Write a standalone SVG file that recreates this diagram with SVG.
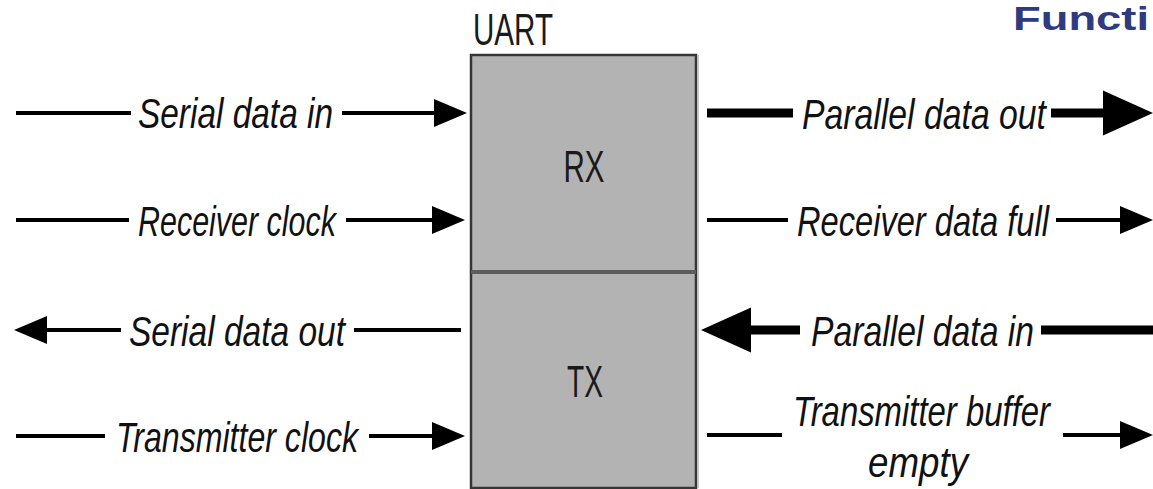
<svg xmlns="http://www.w3.org/2000/svg" width="1153" height="489" viewBox="0 0 1153 489">
  <style>
    .lbl { font-family: "Liberation Sans Narrow", "Liberation Sans", Arial, sans-serif; font-style: italic; font-size: 42px; fill: #111; }
    .blk { font-family: "Liberation Sans Narrow", "Liberation Sans", Arial, sans-serif; font-size: 45px; fill: #1a1a1a; }
    .thin { stroke: #000; stroke-width: 4; fill: none; }
    .thick { stroke: #000; stroke-width: 9; fill: none; }
    .title { font-family: "Liberation Sans", Arial, sans-serif; font-weight: bold; font-size: 33px; fill: #2f3b80; }
  </style>
  <defs>
    <marker id="head-thin" markerUnits="userSpaceOnUse" markerWidth="34" markerHeight="28" refX="0" refY="14" orient="auto" overflow="visible">
      <path d="M0,0 L33,14 L0,28 Z" fill="#000"/>
    </marker>
    <marker id="head-thick" markerUnits="userSpaceOnUse" markerWidth="52" markerHeight="46" refX="0" refY="22.5" orient="auto" overflow="visible">
      <path d="M0,0 L50,22.5 L0,45 Z" fill="#000"/>
    </marker>
  </defs>

  <rect width="1153" height="489" fill="#fff"/>

  <!-- heading fragment at the top right -->
  <text class="title" x="1013" y="30" textLength="136" lengthAdjust="spacingAndGlyphs">Functi</text>

  <!-- UART block split into receiver and transmitter halves -->
  <g id="uart">
    <text class="blk" x="473" y="45" textLength="80" lengthAdjust="spacingAndGlyphs">UART</text>
    <rect x="471" y="55" width="225" height="433" fill="#b3b3b3" stroke="#363636" stroke-width="2.5"/>
    <line x1="698" y1="55" x2="698" y2="488" stroke="#c4c4c4" stroke-width="2"/>
    <line x1="471" y1="272" x2="696" y2="272" stroke="#5c5c5c" stroke-width="4"/>
  </g>
  <g id="rx">
    <text class="blk" x="584" y="182" text-anchor="middle" textLength="41" lengthAdjust="spacingAndGlyphs">RX</text>
  </g>
  <g id="tx">
    <text class="blk" x="585" y="397" text-anchor="middle" textLength="36" lengthAdjust="spacingAndGlyphs">TX</text>
  </g>

  <!-- signal connectors -->
  <g id="connectors">
    <g id="serial-data-in">
      <path class="thin" d="M16,113 H131"/>
      <text class="lbl" x="138" y="128" textLength="195" lengthAdjust="spacingAndGlyphs">Serial data in</text>
      <path class="thin" d="M342,113 H434" marker-end="url(#head-thin)"/>
    </g>
    <g id="receiver-clock">
      <path class="thin" d="M16,220 H129"/>
      <text class="lbl" x="138" y="236" textLength="198" lengthAdjust="spacingAndGlyphs">Receiver clock</text>
      <path class="thin" d="M346,220 H432" marker-end="url(#head-thin)"/>
    </g>
    <g id="serial-data-out">
      <path class="thin" d="M461,330 H354"/>
      <text class="lbl" x="129" y="346" textLength="216" lengthAdjust="spacingAndGlyphs">Serial data out</text>
      <path class="thin" d="M121,330 H47" marker-end="url(#head-thin)"/>
    </g>
    <g id="transmitter-clock">
      <path class="thin" d="M16,436 H105"/>
      <text class="lbl" x="116" y="452" textLength="242" lengthAdjust="spacingAndGlyphs">Transmitter clock</text>
      <path class="thin" d="M369,436 H432" marker-end="url(#head-thin)"/>
    </g>

    <g id="parallel-data-out">
      <path class="thick" d="M707,113 H793"/>
      <text class="lbl" x="802" y="129" textLength="244" lengthAdjust="spacingAndGlyphs">Parallel data out</text>
      <path class="thick" d="M1051,113 H1103" marker-end="url(#head-thick)"/>
    </g>
    <g id="receiver-data-full">
      <path class="thin" d="M707,220 H788"/>
      <text class="lbl" x="797" y="236" textLength="252" lengthAdjust="spacingAndGlyphs">Receiver data full</text>
      <path class="thin" d="M1056,220 H1120" marker-end="url(#head-thin)"/>
    </g>
    <g id="parallel-data-in">
      <path class="thick" d="M1153,330 H1041"/>
      <text class="lbl" x="811" y="346" textLength="223" lengthAdjust="spacingAndGlyphs">Parallel data in</text>
      <path class="thick" d="M800,330 H751" marker-end="url(#head-thick)"/>
    </g>
    <g id="transmitter-buffer-empty">
      <path class="thin" d="M707,435 H782"/>
      <text class="lbl" x="793" y="426" textLength="257" lengthAdjust="spacingAndGlyphs">Transmitter buffer</text>
      <text class="lbl" x="868" y="477" textLength="100" lengthAdjust="spacingAndGlyphs">empty</text>
      <path class="thin" d="M1063,435 H1120" marker-end="url(#head-thin)"/>
    </g>
  </g>
</svg>
